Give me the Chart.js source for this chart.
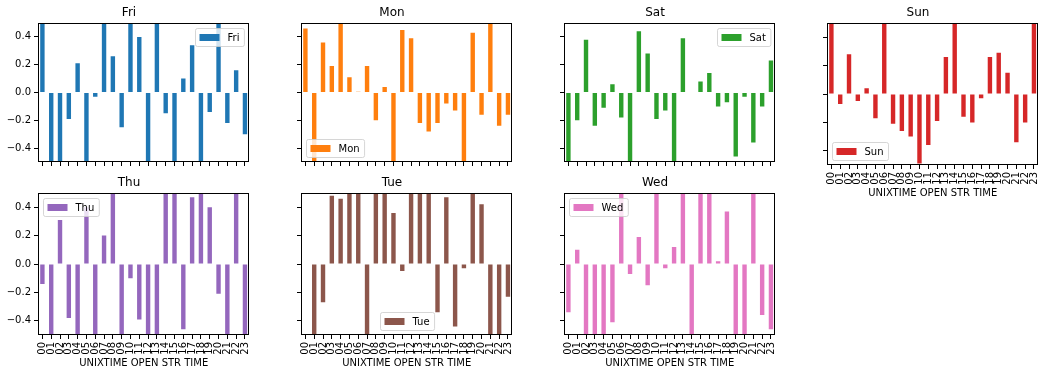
<!DOCTYPE html>
<html>
<head>
<meta charset="utf-8">
<script src="https://cdn.jsdelivr.net/npm/chart.js@4.4.1/dist/chart.umd.min.js"></script>
<style>
  body { margin: 0; background: #fff; }
  #fig { position: relative; width: 1053px; height: 376px; }
  #fig canvas { position: absolute; }
</style>
</head>
<body>
<div id="fig"></div>
<script>
const hours = ['00','01','02','03','04','05','06','07','08','09','10','11',
               '12','13','14','15','16','17','18','19','20','21','22','23'];
const yTicks = [-0.4, -0.2, 0, 0.2, 0.4];
const xTitle = 'UNIXTIME OPEN STR TIME';

// values past +-0.5 are cut off by the axes, so they are only rough guesses
const fri = [0.6,-0.6,-0.6,-0.19,0.21,-0.6,-0.03,0.6,0.26,-0.25,0.6,0.40,-0.6,0.6,-0.15,-0.6,0.10,0.34,-0.6,-0.14,0.6,-0.22,0.16,-0.30];
const mon = [0.46,-0.6,0.36,0.19,0.6,0.11,0.005,0.19,-0.20,0.04,-0.6,0.45,0.39,-0.22,-0.28,-0.22,-0.08,-0.13,-0.6,0.43,-0.16,0.6,-0.24,-0.16];
const sat = [-0.6,-0.20,0.38,-0.24,-0.11,0.06,-0.18,-0.6,0.44,0.28,-0.19,-0.13,-0.6,0.39,0,0.08,0.14,-0.10,-0.07,-0.46,-0.03,-0.36,-0.10,0.23];
const sun = [0.6,-0.07,0.28,-0.05,0.04,-0.17,0.6,-0.21,-0.26,-0.30,-0.49,-0.36,-0.19,0.26,0.6,-0.16,-0.20,-0.03,0.26,0.29,0.15,-0.34,-0.20,0.6];
const thu = [-0.14,-0.6,0.31,-0.38,-0.6,0.40,-0.6,0.20,0.6,-0.6,-0.10,-0.39,-0.6,-0.6,0.6,0.6,-0.46,0.47,0.6,0.40,-0.21,-0.6,0.6,-0.6];
const tue = [0,-0.6,-0.27,0.48,0.46,0.6,0.6,-0.6,0.6,0.6,0.36,-0.05,0.6,0.6,0.6,-0.34,0.47,-0.44,-0.03,0.6,0.42,-0.6,-0.6,-0.23];
const wed = [-0.34,0.10,-0.6,-0.6,-0.6,-0.41,0.6,-0.07,0.19,-0.15,0.6,-0.03,0.12,0.6,-0.6,0.6,0.6,0.02,0.37,-0.6,-0.6,0.6,-0.36,-0.46];

const panels = [
  { name: 'Fri', values: fri, color: '#1f77b4', loc: 'ur' },
  { name: 'Mon', values: mon, color: '#ff7f0e', loc: 'll' },
  { name: 'Sat', values: sat, color: '#2ca02c', loc: 'ur' },
  { name: 'Sun', values: sun, color: '#d62728', loc: 'll' },
  { name: 'Thu', values: thu, color: '#9467bd', loc: 'ul' },
  { name: 'Tue', values: tue, color: '#8c564b', loc: 'lc' },
  { name: 'Wed', values: wed, color: '#e377c2', loc: 'ul' }
];

Chart.defaults.font.family = '"DejaVu Sans", sans-serif';
Chart.defaults.color = '#000';

const fmt = v => (v < 0 ? '\u2212' : '') + Math.abs(v).toFixed(1);

// full box around the plot area, like matplotlib spines
const frame = {
  id: 'frame',
  afterDraw(chart) {
    const { ctx, chartArea: a } = chart;
    ctx.save();
    ctx.strokeStyle = '#000';
    ctx.lineWidth = 1;
    ctx.strokeRect(Math.round(a.left) + 0.5, Math.round(a.top) + 0.5,
                   Math.round(a.right - a.left) - 1, Math.round(a.bottom - a.top) - 1);
    ctx.restore();
  }
};

// legend drawn inside the axes
const legendBox = {
  id: 'legendBox',
  afterDraw(chart, args, opts) {
    const { ctx, chartArea: a } = chart;
    ctx.save();
    ctx.font = '10px "DejaVu Sans"';
    const tw = ctx.measureText(opts.text).width;
    const w = 4 + 20 + 8 + tw + 5, h = 18;
    let x, y;
    if (opts.loc === 'ur') { x = a.right - 5 - w; y = a.top + 5; }
    else if (opts.loc === 'ul') { x = a.left + 5; y = a.top + 5; }
    else if (opts.loc === 'll') { x = a.left + 5; y = a.bottom - 5 - h; }
    else { x = (a.left + a.right) / 2 - w / 2; y = a.bottom - 5 - h; }
    x = Math.round(x) + 0.5; y = Math.round(y) + 0.5;
    ctx.beginPath();
    ctx.roundRect(x, y, w, h, 2);
    ctx.fillStyle = 'rgba(255,255,255,0.8)';
    ctx.fill();
    ctx.strokeStyle = 'rgba(204,204,204,0.8)';
    ctx.lineWidth = 1;
    ctx.stroke();
    ctx.fillStyle = opts.color;
    ctx.fillRect(x + 4, y + h / 2 - 3.5, 20, 7);
    ctx.fillStyle = '#000';
    ctx.textBaseline = 'middle';
    ctx.fillText(opts.text, x + 32, y + h / 2 + 0.5);
    ctx.restore();
  }
};

const fig = document.getElementById('fig');

panels.forEach((p, i) => {
  const col = i % 4, row = Math.floor(i / 4);
  const showX = row === 1 || i === 3;
  const showY = col === 0;
  const bottomH = showX ? 41 : 6;

  const canvas = document.createElement('canvas');
  canvas.width = 260;
  canvas.height = 23 + 142 + bottomH;
  canvas.style.left = (col * 263) + 'px';
  canvas.style.top = (row ? 170 : 0) + 'px';
  fig.appendChild(canvas);

  new Chart(canvas.getContext('2d'), {
    type: 'bar',
    data: {
      labels: hours,
      datasets: [
        {
          label: p.name,
          data: p.values,
          backgroundColor: p.color,
          borderWidth: 0,
          barPercentage: 0.5,
          categoryPercentage: 1.0
        }
      ]
    },
    options: {
      responsive: false,
      animation: false,
      devicePixelRatio: 1,
      layout: { padding: { left: 0, right: 2, top: 0, bottom: 0 } },
      plugins: {
        legend: { display: false },
        tooltip: { enabled: false },
        title: {
          display: true,
          text: p.name,
          font: { size: 12, weight: 'normal' },
          color: '#000',
          padding: { top: 6, bottom: 2.6 }
        },
        legendBox: { text: p.name, color: p.color, loc: p.loc }
      },
      scales: {
        x: {
          offset: true,
          grid: { offset: false, drawOnChartArea: false, drawTicks: true, tickLength: 4, color: '#000' },
          border: { display: false },
          ticks: {
            autoSkip: false,
            minRotation: 90,
            maxRotation: 90,
            padding: 3,
            font: { size: 10 },
            callback: (v, idx) => showX ? hours[idx] : ''
          },
          title: {
            display: showX,
            text: xTitle,
            font: { size: 10 },
            padding: { top: 0, bottom: 7 }
          },
          afterFit: s => { s.height = bottomH; }
        },
        y: {
          min: -0.5,
          max: 0.5,
          grid: { drawOnChartArea: false, drawTicks: true, tickLength: 4, color: '#000' },
          border: { display: false },
          ticks: {
            padding: 3,
            font: { size: 10 },
            callback: v => showY ? fmt(v) : ''
          },
          afterBuildTicks: s => { s.ticks = yTicks.map(v => ({ value: v })); },
          afterFit: s => { s.width = 38; }
        }
      }
    },
    plugins: [frame, legendBox]
  });
});
</script>
</body>
</html>
